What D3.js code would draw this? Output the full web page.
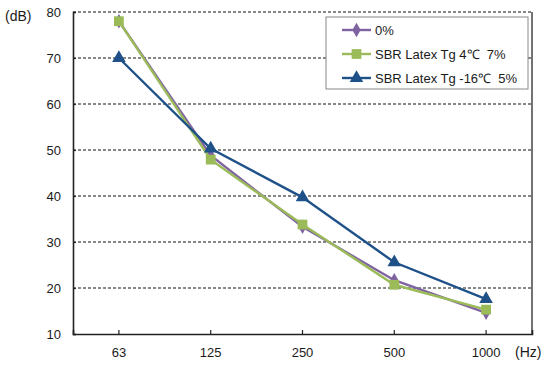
<!DOCTYPE html>
<html lang="en">
<head>
<meta charset="UTF-8">
<title>Sound level by frequency</title>
<script src="https://d3js.org/d3.v7.min.js"></script>
<style>
  body { margin: 0; background: #ffffff; }
  svg text { font-family: "Liberation Sans", Arial, sans-serif; fill: #1a1a1a; white-space: pre; }
</style>
</head>
<body>
<div id="chart"></div>
<script>
// data
var freqs = ["63", "125", "250", "500", "1000"];
var yTicks = [10, 20, 30, 40, 50, 60, 70, 80];
var seriesNames = ["0%", "SBR Latex Tg 4\u2103  7%", "SBR Latex Tg -16\u2103  5%"];
var plain = [78, 48.8, 33.3, 21.7, 14.6];
var sbr4 = [78, 47.9, 33.8, 20.7, 15.3];
var sbr16 = [70, 50.3, 39.7, 25.6, 17.6];

var colors = ["#8064a2", "#9bbb59", "#1f5189"];
var shapes = [d3.symbolDiamond, d3.symbolSquare, d3.symbolTriangle];
var sizes = [60, 95, 80];

var W = 550, H = 368;
var margin = {top: 12, right: 18, bottom: 34, left: 73};
var width = W - margin.left - margin.right,
    height = H - margin.top - margin.bottom;

var svg = d3.select("#chart").append("svg")
    .attr("width", W).attr("height", H);
var g = svg.append("g")
    .attr("transform", "translate(" + margin.left + "," + margin.top + ")");

var x = d3.scaleBand().domain(freqs).range([0, width]);
var y = d3.scaleLinear().domain([10, 80]).range([height, 0]);
var cx = function(f) { return x(f) + x.bandwidth() / 2; };

// dashed grid lines
g.selectAll(".grid").data(yTicks.filter(function(t) { return t > 10; }))
  .enter().append("line")
    .attr("x1", 0).attr("x2", width)
    .attr("y1", function(d) { return y(d); })
    .attr("y2", function(d) { return y(d); })
    .attr("stroke", "#111").attr("stroke-width", 1)
    .attr("stroke-dasharray", "3,2");

// right border
g.append("line")
  .attr("x1", width).attr("x2", width).attr("y1", 0).attr("y2", height)
  .attr("stroke", "#444").attr("stroke-width", 1.5);

// axes
var yAxis = g.append("g")
  .call(d3.axisLeft(y).tickValues(yTicks).tickSize(-3).tickPadding(12));
var xAxis = g.append("g")
  .attr("transform", "translate(0," + height + ")")
  .call(d3.axisBottom(x).tickSize(-4).tickPadding(14));
[xAxis, yAxis].forEach(function(a) {
  a.select(".domain").attr("stroke", "#222").attr("stroke-width", 1.6);
  a.selectAll(".tick line").attr("stroke", "#222").attr("stroke-width", 1.2);
  a.selectAll("text").style("font-size", "13px").attr("fill", "#1a1a1a");
});

// unit labels
svg.append("text").attr("x", 5).attr("y", 21).text("(dB)").style("font-size", "14px");
svg.append("text").attr("x", 515).attr("y", 357).text("(Hz)").style("font-size", "14px");

// series
var allSeries = [plain, sbr4, sbr16];
var line = d3.line()
  .x(function(d, i) { return cx(freqs[i]); })
  .y(function(d) { return y(d); });

allSeries.forEach(function(vals, k) {
  g.append("path").datum(vals)
    .attr("d", line)
    .attr("fill", "none")
    .attr("stroke", colors[k])
    .attr("stroke-width", 2.4);
  g.selectAll(".m" + k).data(vals).enter().append("path")
    .attr("d", d3.symbol().type(shapes[k]).size(sizes[k]))
    .attr("transform", function(d, i) {
      return "translate(" + cx(freqs[i]) + "," + y(d) + ")";
    })
    .attr("fill", colors[k]);
});

// legend
var leg = svg.append("g").attr("transform", "translate(326,17)");
leg.append("rect").attr("width", 202).attr("height", 72)
  .attr("fill", "#fff").attr("stroke", "#888").attr("stroke-width", 1);
seriesNames.forEach(function(name, k) {
  var ly = 13 + k * 24;
  leg.append("line").attr("x1", 16).attr("x2", 45).attr("y1", ly).attr("y2", ly)
    .attr("stroke", colors[k]).attr("stroke-width", 2.4);
  leg.append("path")
    .attr("d", d3.symbol().type(shapes[k]).size(sizes[k]))
    .attr("transform", "translate(30.5," + ly + ")")
    .attr("fill", colors[k]);
  leg.append("text").attr("x", 49).attr("y", ly + 4.5)
    .text(name).style("font-size", "13px");
});
</script>
</body>
</html>
